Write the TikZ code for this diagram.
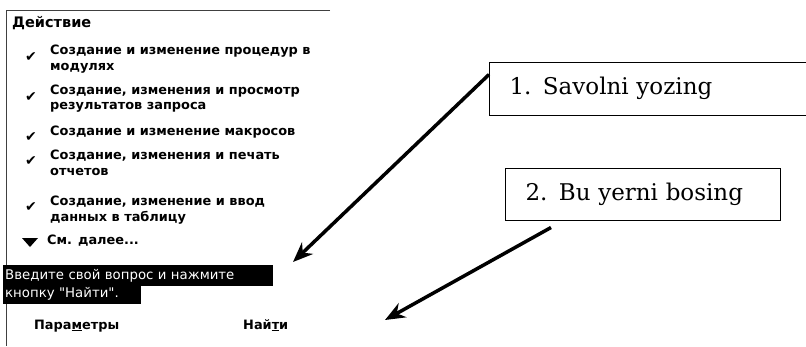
\documentclass[tikz,border=0pt]{standalone}
\usepackage{fontspec}
\newfontfamily\uifont{DejaVu Sans}
\newfontfamily\notefont{DejaVu Serif}
\usetikzlibrary{arrows.meta}
\tikzset{
  menuline/.style={anchor=mid west, inner sep=0pt, font=\uifont\bfseries\fontsize{12.9}{15}\selectfont},
  tickmark/.style={inner sep=0pt, font=\uifont\fontsize{14}{14}\selectfont},
  hilite/.style={anchor=west, fill=black, text=white, inner xsep=2pt, inner ysep=0pt, minimum height=20.5pt, align=left, font=\uifont\fontsize{13.3}{15}\selectfont},
  labelbox/.style={draw, line width=1pt, anchor=west, inner xsep=20pt, align=left, font=\notefont\fontsize{23}{26}\selectfont},
  pointer/.style={line width=3.5pt, -{Stealth[length=20pt,width=16pt]}},
}

\begin{document}
\begin{tikzpicture}[x=1pt,y=-1pt]
  \clip (0,0) rectangle (806,346);
  \draw[line width=1pt, black!75] (330,10) -- (6,10) -- (6,346);
  \node[menuline, font=\uifont\bfseries\fontsize{14.5}{16}\selectfont] (title) at (12,25) {Действие};
  \node[menuline] (item1a) at (50,52) {Создание и изменение процедур в};
  \node[menuline] (item1b) at (50,68) {модулях};
  \node[menuline] (item2a) at (50,92) {Создание, изменения и просмотр};
  \node[menuline] (item2b) at (50,107) {результатов запроса};
  \node[menuline] (item3a) at (50,133) {Создание и изменение макросов};
  \node[menuline] (item4a) at (50,157) {Создание, изменения и печать};
  \node[menuline] (item4b) at (50,173) {отчетов};
  \node[menuline] (item5a) at (50,203) {Создание, изменение и ввод};
  \node[menuline] (item5b) at (50,219) {данных в таблицу};
  \node[tickmark] (tick1) at (31,57) {✔};
  \node[tickmark] (tick2) at (31,97) {✔};
  \node[tickmark] (tick3) at (31,137) {✔};
  \node[tickmark] (tick4) at (31,161) {✔};
  \node[tickmark] (tick5) at (31,207) {✔};
  \fill (22,238) -- (38,238) -- (30,247) -- cycle;
  \node[menuline] (more) at (47,242) {См. далее...};
  \node[hilite, text width=266pt] (ask1) at (3,275.5) {Введите свой вопрос и нажмите};
  \node[hilite, text width=134pt] (ask2) at (3,294) {кнопку "Найти".};
  \node[menuline] (params) at (34,327) {Пара\underline{м}етры};
  \node[menuline] (find) at (243,327) {Най\underline{т}и};
  \node[labelbox, minimum height=53pt, text width=300pt] (savol) at (489,88.5) {1. Savolni yozing};
  \node[labelbox, minimum height=52pt, text width=235pt] (bosing) at (505,194) {2. Bu yerni bosing};
  \coordinate (tip1) at (293,262);
  \coordinate (tip2) at (385,320);
  \draw[pointer] ([yshift=-13pt]savol.north west) -- (tip1);
  \draw[pointer] ([shift={(46pt,-7pt)}]bosing.south west) -- (tip2);
\end{tikzpicture}
\end{document}
